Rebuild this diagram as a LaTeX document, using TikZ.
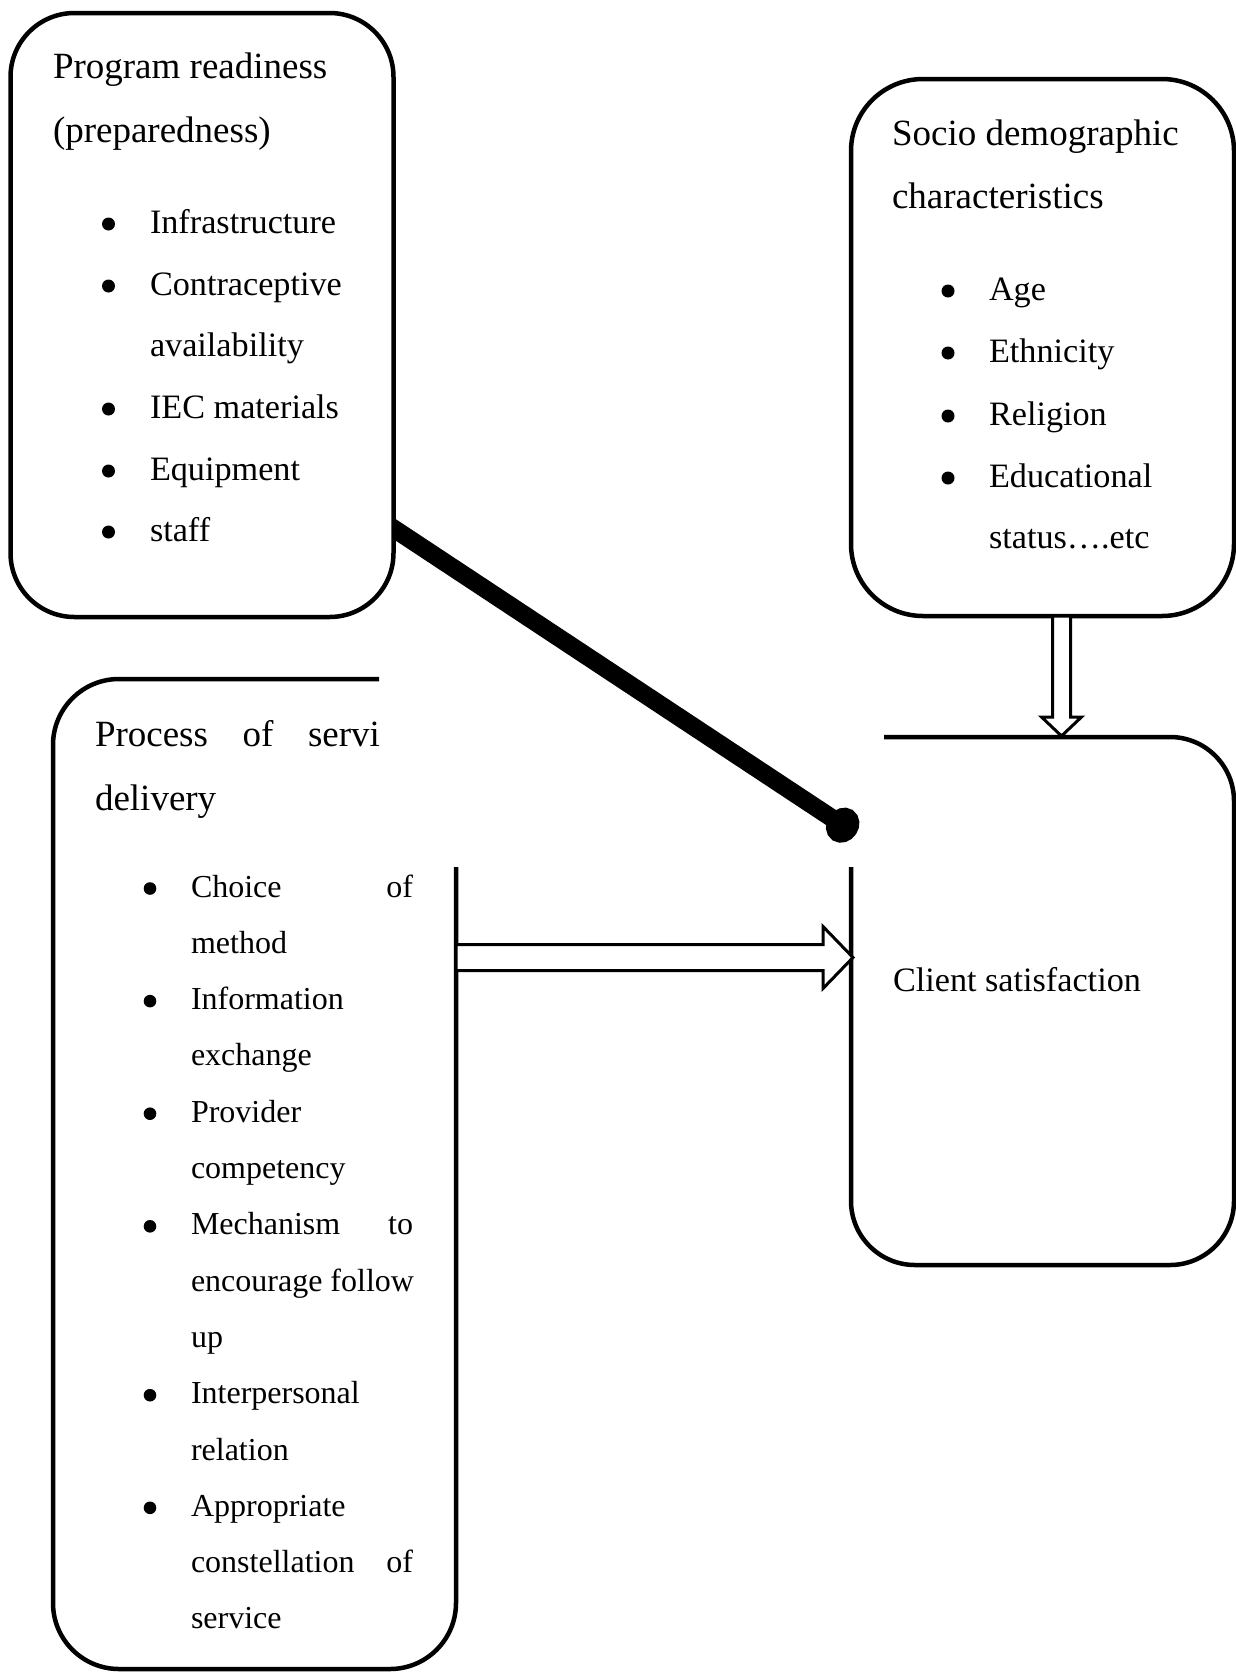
\documentclass[tikz,border=0pt]{standalone}
\usepackage{fontspec}
\setmainfont{Liberation Serif}
\usetikzlibrary{arrows.meta,calc}
\pgfdeclarelayer{bg}
\pgfsetlayers{bg,main}
\begin{document}
\begin{tikzpicture}[x=1pt,y=-1pt,
  boxline/.style={draw=black,line width=4.5pt},
  boxnode/.style={boxline,fill=white,rounded corners=#1,inner sep=0pt,outer sep=0pt},
  ghost/.style={draw=none,inner sep=0pt,outer sep=0pt},
  hd/.style={anchor=base west,inner sep=0pt,outer sep=0pt,font=\fontsize{37}{44}\selectfont},
  itm/.style={anchor=base west,inner sep=0pt,outer sep=0pt,font=\fontsize{34.2}{40}\selectfont},
  pitm/.style={anchor=base west,inner sep=0pt,outer sep=0pt,font=\fontsize{32}{38}\selectfont},
  bul/.style={fill=black,draw=none},
  hollow/.style={draw=black,line width=3pt,fill=white,line join=miter},
  heavy/.style={line width=18pt,-{Circle[length=32pt,width=36pt]}}
]
\useasboundingbox (0,0) rectangle (1236,1673);

% ---------- boxes ----------
\node[boxnode=64pt, minimum width=383pt, minimum height=604pt] (prog) at (202,315) {};
\node[boxnode=72pt, minimum width=383pt, minimum height=537pt] (soc) at (1042.5,347.5) {};
\node[ghost, minimum width=403pt, minimum height=990pt] (proc) at (254.5,1174) {};
\node[ghost, minimum width=383pt, minimum height=528pt] (client) at (1042.5,1001) {};

\draw[boxline, rounded corners=66pt] (379,679) -- (proc.north west) -- (proc.south west) -- (proc.south east) -- (456,867);
\draw[boxline, rounded corners=64pt] (851,867) -- (client.south west) -- (client.south east) -- (client.north east) -- (884,737);

% ---------- Program readiness text ----------
\node[hd] (p1) at (53,78) {Program readiness};
\node[hd] (p2) at (53,142) {(preparedness)};
\foreach \y/\t/\b [count=\i] in {233/Infrastructure/1, 295/Contraceptive/1, 356/availability/0, 418/IEC materials/1, 480/Equipment/1, 541/staff/1}{
  \node[itm] (pi\i) at (150,\y) {\t};
  \ifnum\b=1 \fill[bul] (108.5,\y-9) circle (6.5pt); \fi
}

% ---------- Socio demographic text ----------
\node[hd] (s1) at (892,145) {Socio demographic};
\node[hd] (s2) at (892,208) {characteristics};
\foreach \y/\t/\b [count=\i] in {300/Age/1, 362/Ethnicity/1, 425/Religion/1, 487/Educational/1, 548/status….etc/0}{
  \node[itm] (si\i) at (989,\y) {\t};
  \ifnum\b=1 \fill[bul] (948,\y-9) circle (6.5pt); \fi
}

% ---------- Process text ----------
\node[hd] (r1) at (95,746) {\makebox[285pt][s]{Process of servi}};
\node[hd] (r2) at (95,810) {delivery};
\foreach \t/\b [count=\i from 0] in {
  {\makebox[222pt][s]{Choice of}}/1,
  method/0,
  Information/1,
  exchange/0,
  Provider/1,
  competency/0,
  {\makebox[222pt][s]{Mechanism to}}/1,
  encourage follow/0,
  up/0,
  Interpersonal/1,
  relation/0,
  Appropriate/1,
  {\makebox[222pt][s]{constellation of}}/0,
  service/0}{
  \pgfmathsetmacro{\yy}{897+56.3*\i}
  \node[pitm] (ri\i) at (191,\yy) {\t};
  \ifnum\b=1 \fill[bul] (150,\yy-8.5) circle (6.3pt); \fi
}

% ---------- Client satisfaction ----------
\node[itm] (c1) at (893,991) {Client satisfaction};

% ---------- heavy arrow (behind box 1) ----------
\coordinate (ts) at ($(prog.east)+(-15,203.5)$);
\coordinate (te) at (856,834);
\begin{pgfonlayer}{bg}
\draw[heavy] (ts) -- (te);
\end{pgfonlayer}

% ---------- vertical hollow arrow ----------
\coordinate (vs) at ($(soc.south)+(19,0)$);
\coordinate (ve) at ($(client.north)+(19,-1)$);
\draw[hollow] ($(vs)+(-9,0)$) -- ($(ve)+(-9,-19)$) -- ($(ve)+(-20,-19)$) -- (ve)
  -- ($(ve)+(20,-19)$) -- ($(ve)+(9,-19)$) -- ($(vs)+(9,0)$) -- cycle;

% ---------- horizontal hollow arrow ----------
\coordinate (hs) at ($(proc.east)+(0,-216.5)$);
\coordinate (he) at ($(client.west)+(2,-43.5)$);
\draw[hollow] ($(hs)+(0,-13)$) -- ($(he)+(-30,-13)$) -- ($(he)+(-30,-31)$) -- (he)
  -- ($(he)+(-30,31)$) -- ($(he)+(-30,13)$) -- ($(hs)+(0,13)$) -- cycle;
\end{tikzpicture}
\end{document}
